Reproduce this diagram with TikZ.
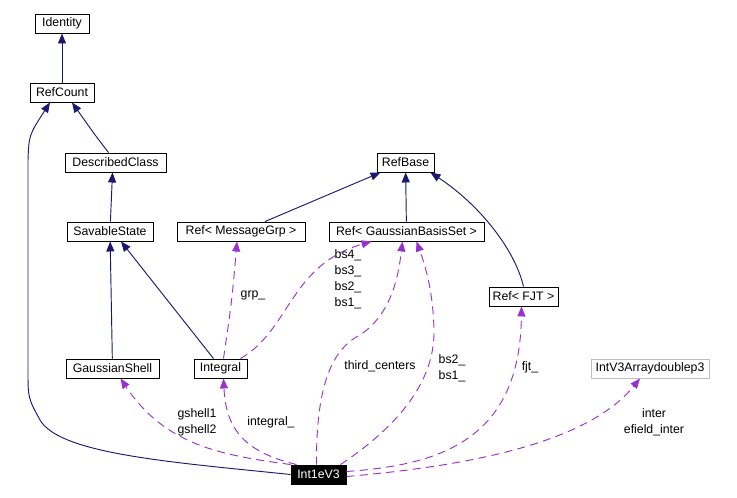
\documentclass[tikz,border=0pt]{standalone}
\usepackage{fontspec}
\setmainfont{Liberation Sans}
\usetikzlibrary{arrows.meta}
\usetikzlibrary{calc}
\definecolor{edgeblue}{RGB}{25,25,112}
\definecolor{usepurple}{RGB}{153,50,204}
\definecolor{boxgray}{RGB}{191,191,191}
\tikzset{
    cls/.style={draw=black, line width=0.8pt, minimum height=0.57cm, inner sep=0pt,
        font=\fontsize{10.5}{13.6}\selectfont},
    inherit/.style={edgeblue, line width=0.8pt, -{Triangle[length=3mm,width=2.4mm]}},
    uses/.style={usepurple, line width=0.8pt, dash pattern=on 2.4mm off 1.6mm,
        -{Triangle[length=3mm,width=2.4mm]}},
    lbl/.style={font=\fontsize{10.5}{13.6}\selectfont, text=black, inner sep=0pt, align=center},
}
\newcommand{\drawinherit}{\draw[inherit]}
\newcommand{\drawuses}{\draw[uses]}

\begin{document}
\begin{tikzpicture}[x=0.03cm, y=-0.03cm]
        \useasboundingbox (0,0) rectangle (737,497);

        % Draw classes
        \node[cls, minimum width=1.62cm] (Identity) at (62,23.5) {Identity};
        \node[cls, minimum width=1.92cm] (RefCount) at (62,92.5) {RefCount};
        \node[cls, minimum width=3.03cm] (DescribedClass) at (115.5,162.5) {DescribedClass};
        \node[cls, minimum width=2.58cm] (SavableState) at (110,231.5) {SavableState};
        \node[cls, minimum width=3.84cm] (RefMsg) at (241,231.5) {Ref< MessageGrp >};
        \node[cls, minimum width=1.71cm] (RefBase) at (405.5,162.5) {RefBase};
        \node[cls, minimum width=4.65cm] (RefGBS) at (406.5,231.5) {Ref< GaussianBasisSet >};
        \node[cls, minimum width=2.07cm] (RefFJT) at (523.5,296.5) {Ref< FJT >};
        \node[cls, draw=boxgray, minimum width=3.54cm] (IntV3) at (650,368.5) {IntV3Arraydoublep3};
        \node[cls, minimum width=2.79cm] (GaussianShell) at (112.5,368.5) {GaussianShell};
        \node[cls, minimum width=1.59cm] (Integral) at (220.5,368.5) {Integral};
        \node[cls, fill=black, text=white, minimum width=1.65cm] (Int1eV3) at (318.5,474.5) {Int1eV3};

        % Draw inheritance
        \drawinherit (RefCount) -- (Identity);
        \drawinherit ($(DescribedClass.north)+(-7,0)$) .. controls (95,135) .. ($(RefCount.south)+(10,0)$);
        \drawinherit (SavableState) -- ($(DescribedClass.south)+(-3,0)$);
        \drawinherit (GaussianShell) -- (SavableState);
        \drawinherit ($(Integral.north)+(-7,0)$) -- ($(SavableState.south)+(11,0)$);
        \drawinherit ($(RefMsg.north)+(24,0)$) -- ($(RefBase.south)+(-25,0)$);
        \drawinherit (RefGBS) -- (RefBase);
        \drawinherit (RefFJT.north) .. controls (515,250) and (480,205) .. ($(RefBase.south)+(25,0)$);
        \drawinherit (Int1eV3.west) .. controls (170,462) and (60,454) .. (40,420)
            .. controls (28,398) .. (28,370) -- (28,160) .. controls (29,135) .. ($(RefCount.south)+(-12,0)$);

        % Draw usage
        \drawuses (Int1eV3.north west) .. controls (220,455) and (165,445) .. ($(GaussianShell.south)+(8,0)$);
        \node[lbl] (lgshell) at (197,422) {gshell1\\gshell2};
        \drawuses ($(Int1eV3.north west)+(6,0)$) .. controls (245,452) and (226,430) .. ($(Integral.south)+(3,0)$);
        \node[lbl] (lintegral) at (271,422) {integral\_};
        \drawuses ($(Integral.north)+(3,0)$) .. controls (232,300) .. ($(RefMsg.south)+(-4,0)$);
        \node[lbl] (lgrp) at (253,295) {grp\_};
        \drawuses ($(Integral.north)+(20,0)$) .. controls (290,330) and (290,265) .. ($(RefGBS.south)+(-35,0)$);
        \node[lbl, align=left] (lbs) at (348,279) {bs4\_\\bs3\_\\bs2\_\\bs1\_};
        \drawuses ($(Int1eV3.north)+(-2,0)$) .. controls (316,390) and (330,350) .. (360,335)
            .. controls (390,315) and (398,280) .. ($(RefGBS.south)+(-4,0)$);
        \node[lbl] (lthird) at (380,366) {third\_centers};
        \drawuses ($(Int1eV3.north east)+(-6,0)$) .. controls (400,425) and (435,380) .. (434,330)
            .. controls (433,290) and (425,265) .. ($(RefGBS.south)+(10,0)$);
        \node[lbl, align=left] (lbsb) at (452,368) {bs2\_\\bs1\_};
        \drawuses ($(Int1eV3.east)+(0,-3)$) .. controls (440,465) and (520,440) .. ($(RefFJT.south)+(-2,0)$);
        \node[lbl] (lfjt) at (530,367) {fjt\_};
        \drawuses ($(Int1eV3.east)+(0,2)$) .. controls (480,465) and (590,440) .. ($(IntV3.south)+(-10,0)$);
        \node[lbl] (linter) at (654,422) {inter\\efield\_inter};
    \end{tikzpicture}
\end{document}
